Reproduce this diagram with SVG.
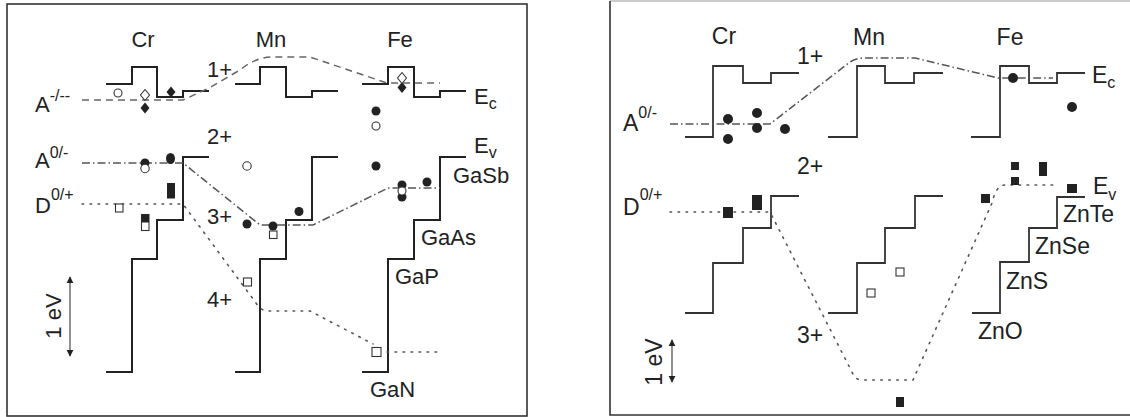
<svg xmlns="http://www.w3.org/2000/svg" width="1130" height="417" viewBox="0 0 1130 417">
<style>
.frame{fill:none;stroke:#333;stroke-width:1.6}
.band{fill:none;stroke:#222;stroke-width:2}
.bandR{fill:none;stroke:#333;stroke-width:1.8}
.dash{fill:none;stroke:#666;stroke-width:1.5;stroke-dasharray:7 5}
.dashdot{fill:none;stroke:#555;stroke-width:1.5;stroke-dasharray:8 3 1.5 3}
.dot{fill:none;stroke:#555;stroke-width:1.6;stroke-dasharray:1.6 6.4;stroke-linecap:round}
.t{font-family:"Liberation Sans",Arial,sans-serif;font-size:22px;fill:#222}
.tr{font-family:"Liberation Sans",Arial,sans-serif;font-size:23px;fill:#222}
.s{font-size:16px}
.open{fill:#fff;stroke:#333;stroke-width:1.1}
.fill{fill:#222;stroke:none}
.arr{stroke:#555;stroke-width:1.3}
</style>
<defs>
<marker id="ah" viewBox="0 0 10 10" refX="9" refY="5" markerWidth="7" markerHeight="8" markerUnits="userSpaceOnUse" orient="auto-start-reverse">
<path d="M0,0 L10,5 L0,10 Z" fill="#222"/>
</marker>
</defs>
<rect width="1130" height="417" fill="#fff"/>

<!-- LEFT PANEL -->
<g id="left-panel">
<rect class="frame" x="7" y="4" width="520" height="412"/>
<g id="left-bands">
<path class="band" d="M106,84 H132 V67 H157 V97 H183 V91 H209"/>
<path class="band" d="M235,84 H260 V67 H286 V97 H312 V91 H338"/>
<path class="band" d="M362,84 H388 V67 H414 V97 H440 V91 H466"/>
<path class="band" d="M209,157 H183 V220 H157 V259 H132 V372 H106"/>
<path class="band" d="M338,157 H312 V220 H286 V259 H260 V372 H235"/>
<path class="band" d="M466,157 H440 V220 H414 V259 H388 V372 H362"/>
</g>
<g id="left-connectors">
<path class="dash" d="M82,100 H183 L209,88 L240,70 Q256,57 272,57 H310 L387,83 H440"/>
<path class="dashdot" d="M82,163 H183 L260,225 H313 L388,188 H440"/>
<path class="dot" d="M82,204 H183 L256,303 Q261,311 268,311 H310 L373,344"/>
<path class="dot" d="M387,352 H438"/>
<line class="arr" x1="70" y1="277" x2="70" y2="356" marker-start="url(#ah)" marker-end="url(#ah)"/>
</g>
<g id="left-labels">
<text class="t" x="143" y="47" text-anchor="middle">Cr</text>
<text class="t" x="271" y="47" text-anchor="middle">Mn</text>
<text class="t" x="400" y="47" text-anchor="middle">Fe</text>
<text class="t" x="207" y="77">1+</text>
<text class="t" x="207" y="144">2+</text>
<text class="t" x="207" y="224">3+</text>
<text class="t" x="207" y="307">4+</text>
<text class="t" x="35" y="112">A<tspan class="s" dy="-11">-/--</tspan></text>
<text class="t" x="35" y="168">A<tspan class="s" dy="-10">0/-</tspan></text>
<text class="t" x="35" y="213">D<tspan class="s" dy="-13">0/+</tspan></text>
<text class="t" x="474" y="104">E<tspan class="s" dy="5">c</tspan></text>
<text class="t" x="474" y="153">E<tspan class="s" dy="5">v</tspan></text>
<text class="t" x="453" y="183">GaSb</text>
<text class="t" x="421" y="245">GaAs</text>
<text class="t" x="395" y="284">GaP</text>
<text class="t" x="370" y="397">GaN</text>
<text class="t" x="61" y="316" text-anchor="middle" transform="rotate(-90 61 316)">1 eV</text>
</g>
<g id="left-points">
<circle class="open" cx="118" cy="93" r="4"/>
<path class="fill" d="M145,102.5 L149.5,108 L145,113.5 L140.5,108 Z"/>
<path class="open" d="M145,89.5 L149.5,95 L145,100.5 L140.5,95 Z"/>
<path class="fill" d="M171,86.5 L175.5,92 L171,97.5 L166.5,92 Z"/>
<path class="fill" d="M402,82 L406.5,87.5 L402,93 L397.5,87.5 Z"/>
<path class="open" d="M402,72.5 L406.5,78 L402,83.5 L397.5,78 Z"/>
<circle class="fill" cx="145" cy="163" r="4.5"/>
<circle class="open" cx="145" cy="168.5" r="4.2"/>
<ellipse class="fill" cx="170.5" cy="158.5" rx="4.5" ry="5.5"/>
<circle class="open" cx="247" cy="166" r="4.2"/>
<rect class="fill" x="167" y="183" width="8" height="15.5"/>
<rect class="open" x="115.5" y="204" width="7.5" height="8"/>
<rect class="open" x="141.5" y="214.5" width="7.5" height="16"/>
<rect class="fill" x="141.5" y="214.5" width="7.5" height="8"/>
<circle class="fill" cx="247" cy="224" r="4.5"/>
<rect class="open" x="269.5" y="231" width="7.5" height="7.5"/>
<circle class="fill" cx="273" cy="226" r="4.5"/>
<circle class="fill" cx="299" cy="211.5" r="4.5"/>
<rect class="open" x="243.5" y="278" width="8" height="8"/>
<circle class="fill" cx="376" cy="111" r="4.5"/>
<circle class="open" cx="376" cy="126" r="4"/>
<circle class="fill" cx="376" cy="166" r="4.5"/>
<circle class="fill" cx="427" cy="182" r="4.5"/>
<circle class="fill" cx="402" cy="197" r="4.5"/>
<circle class="fill" cx="402" cy="185" r="4.5"/>
<circle class="open" cx="402" cy="191" r="4"/>
<rect class="open" x="372" y="347.5" width="9" height="9"/>
</g>
</g>

<!-- RIGHT PANEL -->
<g id="right-panel">
<line x1="610" y1="1" x2="1130" y2="1" stroke="#bbb" stroke-width="1.5"/>
<path class="frame" d="M610,1 V415 H1130"/>
<g id="right-bands">
<path class="bandR" d="M685,137 H713 V66 H743 V83 H771 V73 H799"/>
<path class="bandR" d="M828,137 H857 V66 H885 V83 H914 V73 H943"/>
<path class="bandR" d="M971,137 H1000 V66 H1029 V83 H1057 V73 H1085"/>
<path class="bandR" d="M799,196 H771 V228 H743 V263 H713 V313 H685"/>
<path class="bandR" d="M943,196 H915 V228 H885 V263 H857 V313 H828"/>
<path class="bandR" d="M1085,197 H1057 V228 H1029 V262 H1000 V313 H972"/>
</g>
<g id="right-connectors">
<path class="dashdot" d="M670,124 H770 L850,62 Q856,58 864,58 H915 L998,78 H1053"/>
<path class="dot" d="M670,212 H770 L852,372 Q855,380 862,380 H913 L992,203 Q996,185 1005,185 H1057"/>
<line class="arr" x1="672" y1="340" x2="672" y2="382" marker-start="url(#ah)" marker-end="url(#ah)"/>
</g>
<g id="right-labels">
<text class="tr" x="724" y="44" text-anchor="middle">Cr</text>
<text class="tr" x="869" y="45" text-anchor="middle">Mn</text>
<text class="tr" x="1010" y="45" text-anchor="middle">Fe</text>
<text class="tr" x="797" y="64">1+</text>
<text class="tr" x="797" y="174">2+</text>
<text class="tr" x="797" y="343">3+</text>
<text class="tr" x="623" y="131">A<tspan class="s" dy="-13">0/-</tspan></text>
<text class="tr" x="623" y="215">D<tspan class="s" dy="-15">0/+</tspan></text>
<text class="tr" x="1092" y="83">E<tspan class="s" dy="5">c</tspan></text>
<text class="tr" x="1093" y="194">E<tspan class="s" dy="6">v</tspan></text>
<text class="tr" x="1063" y="222">ZnTe</text>
<text class="tr" x="1035" y="254">ZnSe</text>
<text class="tr" x="1006" y="289">ZnS</text>
<text class="tr" x="978" y="339">ZnO</text>
<text class="tr" x="662" y="362" text-anchor="middle" transform="rotate(-90 662 362)">1 eV</text>
</g>
<g id="right-points">
<circle class="fill" cx="728" cy="119" r="5"/>
<circle class="fill" cx="728" cy="139" r="5"/>
<circle class="fill" cx="757" cy="113" r="5"/>
<circle class="fill" cx="757" cy="128" r="5"/>
<circle class="fill" cx="785" cy="129" r="5"/>
<circle class="fill" cx="1013" cy="78" r="5"/>
<circle class="fill" cx="1072" cy="107" r="5"/>
<rect class="fill" x="723" y="207" width="10" height="11"/>
<rect class="fill" x="752" y="195" width="10" height="15"/>
<rect class="fill" x="1011" y="162" width="8" height="8"/>
<rect class="fill" x="1011" y="177" width="8" height="8"/>
<rect class="fill" x="1039" y="162" width="8" height="14"/>
<rect class="fill" x="1067" y="184" width="10" height="9"/>
<rect class="fill" x="981" y="194" width="9" height="9"/>
<rect class="open" x="896" y="268" width="8" height="8"/>
<rect class="open" x="867" y="289" width="8" height="8"/>
<rect class="fill" x="896" y="397" width="8" height="10"/>
</g>
</g>
</svg>
